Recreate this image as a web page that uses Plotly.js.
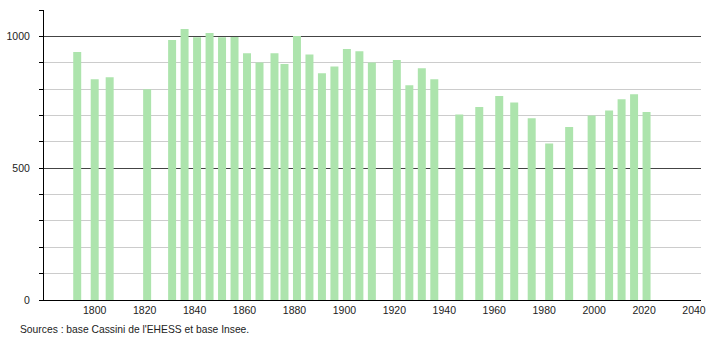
<!DOCTYPE html>
<html>
<head>
<meta charset="utf-8">
<script src="https://cdn.plot.ly/plotly-3.0.1.min.js"></script>
<style>html,body{margin:0;padding:0;background:#fff;}#chart{width:710px;height:340px;}</style>
</head>
<body>
<div id="chart"></div>
<script>
const years = [1793,1800,1806,1821,1831,1836,1841,1846,1851,1856,1861,1866,1872,1876,1881,1886,1891,1896,1901,1906,1911,1921,1926,1931,1936,1946,1954,1962,1968,1975,1982,1990,1999,2006,2011,2016,2021];
const population = [941,837,845,799,986,1028,997,1013,997,998,936,901,936,895,1001,931,860,886,952,944,901,910,815,879,837,704,732,774,749,689,594,656,700,719,761,780,713];
const xTicks = [1800,1820,1840,1860,1880,1900,1920,1940,1960,1980,2000,2020,2040];
const yLabelTicks = [0,500,1000];
const sourceText = "Sources : base Cassini de l'EHESS et base Insee.";

const font = {family: 'Liberation Sans, Arial, sans-serif', size: 10.5, color: '#222'};

const bars = {
  type: 'bar',
  x: years,
  y: population,
  width: 3.2,
  marker: {color: '#ade4ad', line: {width: 0}},
  hoverinfo: 'x+y'
};

// invisible companion trace so the labelled overlay axis (dark 500/1000 lines) is drawn
const axisCarrier = {
  type: 'scatter',
  mode: 'markers',
  x: years,
  y: population,
  yaxis: 'y2',
  marker: {opacity: 0, size: 1},
  hoverinfo: 'skip',
  showlegend: false
};

const layout = {
  width: 710, height: 340,
  margin: {l: 44, r: 9, t: 10, b: 40},
  paper_bgcolor: '#fff', plot_bgcolor: '#fff',
  showlegend: false,
  font: font,
  xaxis: {
    range: [1779.7, 2042.8],
    tickvals: xTicks,
    ticktext: xTicks.map(String),
    ticks: '',
    showgrid: false,
    zeroline: false,
    showline: true, linecolor: '#000', linewidth: 1,
    tickfont: font
  },
  yaxis: {
    range: [0, 1100],
    dtick: 100, tick0: 0,
    showticklabels: false,
    ticks: 'outside', ticklen: 4, tickcolor: '#000', tickwidth: 1,
    showgrid: true, gridcolor: '#cccccc', gridwidth: 1,
    zeroline: false,
    showline: true, linecolor: '#000', linewidth: 1
  },
  yaxis2: {
    overlaying: 'y', anchor: 'x', side: 'left',
    range: [0, 1100],
    tickvals: yLabelTicks,
    ticktext: yLabelTicks.map(String),
    ticks: 'outside', ticklen: 11, tickcolor: 'rgba(0,0,0,0)',
    showgrid: true, gridcolor: '#444', gridwidth: 1,
    zeroline: false, showline: false,
    tickfont: font
  },
  annotations: [{
    xref: 'paper', yref: 'paper',
    x: -0.04, y: 0,
    xanchor: 'left', yanchor: 'middle',
    yshift: -29,
    text: sourceText,
    showarrow: false,
    font: {family: font.family, size: 10.3, color: '#222'}
  }]
};

Plotly.newPlot('chart', [bars, axisCarrier], layout, {staticPlot: true, displayModeBar: false});
</script>
</body>
</html>
